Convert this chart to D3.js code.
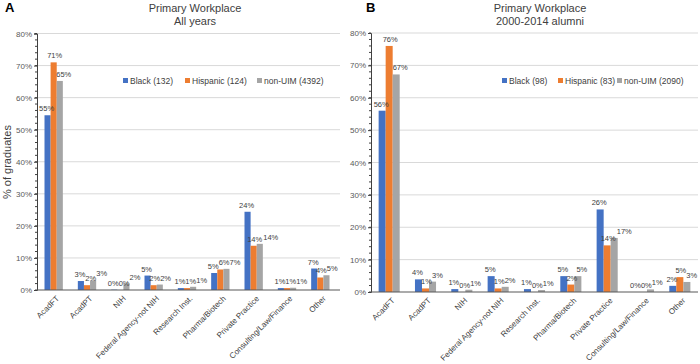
<!DOCTYPE html>
<html>
<head>
<meta charset="utf-8">
<script src="https://cdn.jsdelivr.net/npm/d3@7"></script>
<style>
  body { margin: 0; background: #fff; }
  svg { font-family: "Liberation Sans", Arial, sans-serif; }
</style>
</head>
<body>
<svg id="chart" width="700" height="364"></svg>
<script>
var categories = ["AcadFT", "AcadPT", "NIH", "Federal Agency-not NIH", "Research Inst.",
    "Pharma/Biotech", "Private Practice", "Consulting/Law/Finance", "Other"];
var seriesNames = ["Black", "Hispanic", "non-UIM"];
var colors = ["#4472C4", "#ED7D31", "#A5A5A5"];
var yTicks = [0, 10, 20, 30, 40, 50, 60, 70, 80];

// panel A - all years
var legendA = ["Black (132)", "Hispanic (124)", "non-UIM (4392)"];
var blackA = [54.5, 2.8, 0.1, 4.5, 0.6, 5.3, 24.4, 0.6, 6.7];
var hispA = [71.0, 1.5, 0.0, 1.5, 0.6, 6.4, 13.8, 0.6, 3.9];
var nonA = [65.2, 3.0, 2.0, 1.7, 1.0, 6.6, 14.4, 0.7, 4.6];

// panel B - 2000-2014 alumni
var legendB = ["Black (98)", "Hispanic (83)", "non-UIM (2090)"];
var blackB = [56.0, 3.9, 0.9, 4.9, 0.9, 4.9, 25.5, 0.0, 1.9];
var hispB = [76.0, 1.1, 0.0, 1.1, 0.0, 2.3, 14.4, 0.0, 4.6];
var nonB = [67.2, 3.2, 0.7, 1.6, 0.6, 4.9, 16.7, 0.8, 3.1];

var svg = d3.select("#chart");

function drawPanel(opt) {
    var series = opt.series;
    var g = svg.append("g");

    var x = d3.scaleBand()
        .domain(categories)
        .range([opt.left, opt.right])
        .paddingInner(opt.pad)
        .paddingOuter(opt.pad / 2);

    var xs = d3.scaleBand()
        .domain(d3.range(3))
        .range([0, x.bandwidth()]);

    var y = d3.scaleLinear()
        .domain([0, 80])
        .range([opt.bottom, opt.top]);

    // gridlines
    g.selectAll(".grid")
        .data(yTicks.slice(1))
        .enter().append("line")
        .attr("x1", opt.left)
        .attr("x2", opt.gridEnd)
        .attr("y1", function (d) { return y(d); })
        .attr("y2", function (d) { return y(d); })
        .attr("stroke", "#D9D9D9")
        .attr("stroke-width", 1);

    // y axis
    var yAxis = g.append("g")
        .attr("transform", "translate(" + opt.left + ",0)")
        .call(d3.axisLeft(y).tickValues(yTicks).tickSize(3)
            .tickFormat(function (d) { return d + "%"; }));
    yAxis.select(".domain").attr("stroke", "#404040");
    yAxis.selectAll(".tick line").attr("stroke", "#404040");
    yAxis.selectAll("text")
        .attr("fill", "#595959")
        .style("font-size", "8px")
        .attr("x", -5);

    // minor ticks
    g.selectAll(".minor")
        .data(d3.range(0, 81, 2))
        .enter().append("line")
        .attr("x1", opt.left - 2)
        .attr("x2", opt.left)
        .attr("y1", function (d) { return y(d); })
        .attr("y2", function (d) { return y(d); })
        .attr("stroke", "#404040");

    // bars
    var groups = g.selectAll(".grp")
        .data(categories)
        .enter().append("g")
        .attr("transform", function (d) { return "translate(" + x(d) + ",0)"; });

    groups.selectAll("rect")
        .data(function (d, ci) {
            return series.map(function (s, si) { return { si: si, v: s[ci] }; });
        })
        .enter().append("rect")
        .attr("x", function (d) { return xs(d.si); })
        .attr("width", xs.bandwidth())
        .attr("y", function (d) { return y(d.v); })
        .attr("height", function (d) { return opt.bottom - y(d.v); })
        .attr("fill", function (d) { return colors[d.si]; });

    // data labels, nudged right when they would run into the previous one
    var nudge = [-1, 1, 4];
    groups.selectAll("text")
        .data(function (d, ci) {
            var out = [], prev = null;
            series.forEach(function (s, si) {
                var t = Math.round(s[ci]) + "%";
                var lx = xs(si) + xs.bandwidth() / 2 + nudge[si];
                var ly = y(s[ci]) - 4;
                var w = t.length * 5.2;
                if (prev && Math.abs(ly - prev.ly) < 8) {
                    var gap = (w + prev.w) / 2 + 0.5;
                    if (lx - prev.lx < gap) lx = prev.lx + gap;
                }
                prev = { lx: lx, ly: ly, w: w, t: t };
                out.push(prev);
            });
            return out;
        })
        .enter().append("text")
        .attr("x", function (d) { return d.lx; })
        .attr("y", function (d) { return d.ly; })
        .attr("text-anchor", "middle")
        .attr("fill", "#404040")
        .style("font-size", "7.5px")
        .text(function (d) { return d.t; });

    // x axis
    g.append("line")
        .attr("x1", opt.left)
        .attr("x2", opt.gridEnd)
        .attr("y1", opt.bottom)
        .attr("y2", opt.bottom)
        .attr("stroke", "#595959")
        .attr("stroke-width", 1.2);

    g.selectAll(".xlab")
        .data(categories)
        .enter().append("text")
        .attr("transform", function (d) {
            return "translate(" + (x(d) + x.bandwidth() / 2 + 4) + "," + (opt.bottom + 7) + ") rotate(-45)";
        })
        .attr("text-anchor", "end")
        .attr("dy", "0.35em")
        .attr("fill", "#404040")
        .style("font-size", "8px")
        .text(function (d) { return d; });

    // title
    svg.append("text")
        .attr("x", opt.titleX)
        .attr("y", 12)
        .attr("text-anchor", "middle")
        .attr("fill", "#404040")
        .style("font-size", "11px")
        .text("Primary Workplace");
    svg.append("text")
        .attr("x", opt.titleX)
        .attr("y", 25)
        .attr("text-anchor", "middle")
        .attr("fill", "#404040")
        .style("font-size", "11px")
        .text(opt.subtitle);

    // panel letter
    svg.append("text")
        .attr("x", opt.letterX)
        .attr("y", 12)
        .attr("font-weight", "bold")
        .style("font-size", "13px")
        .attr("fill", "#000")
        .text(opt.letter);

    // legend
    var lg = svg.append("g");
    opt.legend.forEach(function (name, i) {
        lg.append("rect")
            .attr("x", opt.legendX[i])
            .attr("y", 78)
            .attr("width", 5)
            .attr("height", 5)
            .attr("fill", colors[i]);
        lg.append("text")
            .attr("x", opt.legendX[i] + 7)
            .attr("y", 84)
            .attr("fill", "#404040")
            .style("font-size", "8.5px")
            .text(name);
    });
}

drawPanel({
    series: [blackA, hispA, nonA],
    left: 37, right: 337, gridEnd: 340, top: 33.5, bottom: 290,
    pad: 0.45,
    titleX: 195, subtitle: "All years", letter: "A", letterX: 5,
    legend: legendA, legendX: [123, 185, 257]
});

drawPanel({
    series: [blackB, hispB, nonB],
    left: 371, right: 698, gridEnd: 698, top: 33, bottom: 292,
    pad: 0.42,
    titleX: 540, subtitle: "2000-2014 alumni", letter: "B", letterX: 366,
    legend: legendB, legendX: [502, 558, 617]
});

// y axis title
svg.append("text")
    .attr("transform", "translate(11,162) rotate(-90)")
    .attr("text-anchor", "middle")
    .attr("fill", "#404040")
    .style("font-size", "11px")
    .text("% of graduates");
</script>
</body>
</html>
